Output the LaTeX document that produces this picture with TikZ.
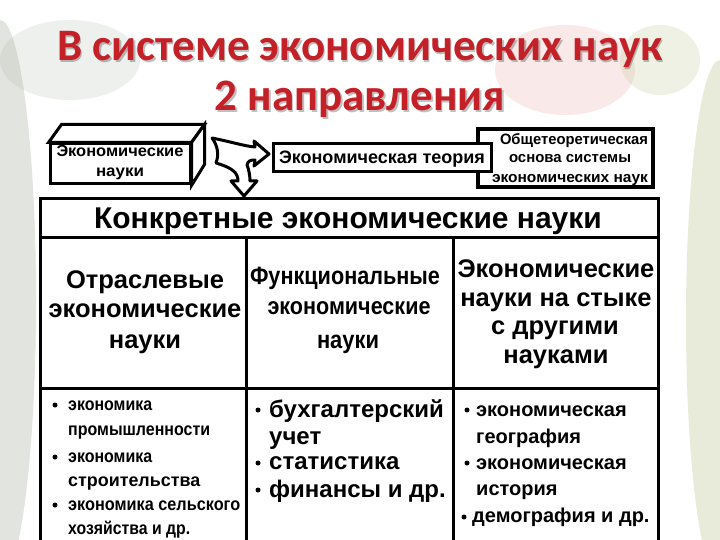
\documentclass[tikz,border=0pt]{standalone}
\usepackage{fontspec}
\usepackage{graphicx}
\setmainfont{Liberation Sans}
\newfontfamily\titlefont{Carlito}
\newcommand{\fitw}[2]{\resizebox{#1pt}{\height}{#2}}
\definecolor{titlered}{RGB}{196,32,40}
\definecolor{bgleft}{RGB}{170,180,165}
\definecolor{bgright}{RGB}{190,200,150}
\definecolor{bgpink}{RGB}{235,170,170}
\begin{document}
\begin{tikzpicture}[x=1pt,y=-1pt,line join=miter,
  frame/.style={draw=black,line width=3pt,fill=white},
  fs/.style={font=\fontsize{#1}{#1}\selectfont\bfseries},
  fr/.style={font=\fontsize{#1}{#1}\selectfont},
  tx/.style={inner sep=0pt,anchor=base,text=black},
  lx/.style={inner sep=0pt,anchor=base west,text=black},
  ttl/.style={inner sep=0pt,anchor=base,font=\titlefont\fontsize{45}{45}\selectfont\bfseries},
  bul/.style={circle,fill=black,inner sep=0pt,minimum size=#1}]
\useasboundingbox (0,0) rectangle (720,540);
% background
\fill[white] (0,0) rectangle (720,540);
\fill[bgleft,opacity=0.35] (0,300) ellipse [x radius=36,y radius=280];
\fill[bgright,opacity=0.35] (720,320) ellipse [x radius=34,y radius=260];
\fill[bgpink,opacity=0.25] (565,70) ellipse [x radius=70,y radius=45];
\fill[bgleft,opacity=0.2] (70,60) ellipse [x radius=70,y radius=40];
\fill[bgright,opacity=0.25] (660,60) ellipse [x radius=40,y radius=35];

% title
\node[ttl,text=black,opacity=0.25] (t1s) at (361.5,62.5) {В системе экономических наук};
\node[ttl,text=black,opacity=0.25] (t2s) at (361.5,112.5) {2 направления};
\node[ttl,text=titlered] (t1) at (360,61) {В системе экономических наук};
\node[ttl,text=titlered] (t2) at (360,111) {2 направления};

% 3D box
\node[frame,minimum width=140pt,minimum height=40pt,inner sep=0pt] (ek) at (120,164) {};
\draw[line width=3pt,fill=white] (ek.north west) -- ++(13,-18) -- ([shift={(13,-18)}]ek.north east) -- (ek.north east) -- cycle;
\draw[line width=3pt,fill=white] (ek.north east) -- ++(13,-18) -- ++(0,40) -- (ek.south east) -- cycle;
\node[tx,fs=16] (ek1) at (120,157) {\fitw{127}{Экономические}};
\node[tx,fs=16] (ek2) at (120,177) {\fitw{48}{науки}};

% right box
\node[draw=black,line width=4pt,fill=white,minimum width=175pt,minimum height=58pt,inner sep=0pt] (ob) at (565,158) {};
\node[tx,fs=15] (ob1) at (574,145) {\fitw{148}{Общетеоретическая}};
\node[tx,fs=15] (ob2) at (570,163) {\fitw{122}{основа системы}};
\node[tx,fs=15] (ob3) at (570,183) {\fitw{156}{экономических наук}};

% theory box
\node[frame,minimum width=218pt,minimum height=28pt,inner sep=0pt] (th) at (382,158) {};
\node[tx,fs=18] (th1) at (382,164) {\fitw{206}{Экономическая теория}};

% three-way arrow
\draw[line width=3pt,fill=white,line join=round]
  (212,138) .. controls (232,142) and (244,146) .. (255,147)
  -- (254,141) -- (269,154) -- (254,166) -- (255,160)
  .. controls (250,160) and (248,161) .. (247,165)
  .. controls (249,170) and (250,176) .. (250,181)
  -- (257,181) -- (244,196) -- (231,181) -- (238,181)
  .. controls (238,173) and (233,168) .. (216,163)
  .. controls (219,155) and (218,146) .. cycle;

% table
\coordinate (tl) at (40,199);
\coordinate (tr) at (658,199);
\draw[line width=3pt,fill=white] (40,545) -- (tl) -- (tr) -- (658,545);
\draw[line width=3pt] (40,237) -- (658,237);
\draw[line width=3pt] (40,388) -- (658,388);
\draw[line width=3pt] (246,237) -- (246,545);
\draw[line width=3pt] (453,237) -- (453,545);

\node[tx,fs=30] (hd) at (348,229) {Конкретные экономические науки};

\node[tx,fs=25.5] (a1) at (145,288) {Отраслевые};
\node[tx,fs=25.5] (a2) at (145,317) {экономические};
\node[tx,fs=25.5] (a3) at (145,348) {науки};

\node[tx,fs=25] (b1) at (345,284) {\fitw{190}{Функциональные}};
\node[tx,fr=24] (b2) at (349,314) {\fitw{163}{\bfseries экономические}};
\node[tx,fs=25] (b3) at (348,348) {\fitw{62}{науки}};

\node[tx,fs=25.5] (c1) at (556,277) {Экономические};
\node[tx,fs=25.5] (c2) at (556,306) {науки на стыке};
\node[tx,fs=25.5] (c3) at (555,334) {с другими};
\node[tx,fs=25.5] (c4) at (556,363) {науками};

% lists column 1
\node[bul=5pt] (d1) at (55,405) {};
\node[lx,fs=18] (l11) at (68,410) {\fitw{84}{экономика}};
\node[lx,fs=18] (l12) at (68,435) {\fitw{142}{промышленности}};
\node[bul=5pt] (d2) at (55,457) {};
\node[lx,fs=18] (l13) at (68,462) {\fitw{84}{экономика}};
\node[lx,fs=18] (l14) at (68,486) {\fitw{132}{строительства}};
\node[bul=5pt] (d3) at (55,505) {};
\node[lx,fs=18] (l15) at (68,510) {\fitw{172}{экономика сельского}};
\node[lx,fs=18] (l16) at (68,534) {\fitw{122}{хозяйства и др.}};

% lists column 2
\node[bul=5pt] (e1) at (258,410) {};
\node[lx,fs=24] (l21) at (269,417) {бухгалтерский};
\node[lx,fs=24] (l22) at (269,444) {учет};
\node[bul=5pt] (e2) at (258,463) {};
\node[lx,fs=24] (l23) at (269,469) {статистика};
\node[bul=5pt] (e3) at (258,490) {};
\node[lx,fs=24] (l24) at (269,497) {финансы и др.};

% lists column 3
\node[bul=5pt] (f1) at (467,410) {};
\node[lx,fs=20] (l31) at (476,416) {экономическая};
\node[lx,fs=20] (l32) at (476,443) {география};
\node[bul=5pt] (f2) at (467,463) {};
\node[lx,fs=20] (l33) at (476,469) {экономическая};
\node[lx,fs=20] (l34) at (476,495) {история};
\node[bul=5pt] (f3) at (464,517) {};
\node[lx,fs=20] (l35) at (472,522) {демография и др.};
\end{tikzpicture}
\end{document}
